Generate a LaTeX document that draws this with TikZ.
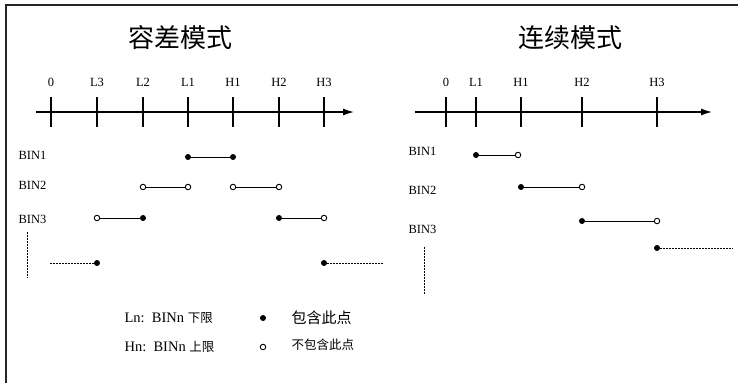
\documentclass[tikz,border=0pt]{standalone}
\usepackage{fontspec}
\setmainfont{Liberation Serif}
\newfontfamily\cjk{Noto Sans CJK SC}
\usetikzlibrary{arrows.meta}
\tikzset{
  incl/.style={circle,fill=black,inner sep=0pt,minimum size=6pt},
  excl/.style={circle,draw=black,fill=white,line width=0.9pt,inner sep=0pt,minimum size=5.5pt},
  ticklbl/.style={font=\fontsize{12.5}{14}\selectfont},
  binlbl/.style={font=\fontsize{12.5}{14}\selectfont,anchor=west},
  title/.style={font=\cjk\fontsize{26}{28}\selectfont},
  seg/.style={line width=1pt},
  dotline/.style={line width=1pt,dash pattern=on 1.5pt off 1.5pt},
  axis/.style={line width=1.4pt,-{Latex[length=11pt,width=7pt]}},
  tick/.style={line width=1.2pt}
}
\begin{document}
\begin{tikzpicture}[x=1pt,y=-1pt]
\useasboundingbox (0,0) rectangle (738,383);
\draw[line width=2pt,black!85] (6,383) -- (6,5) -- (738,5);
% tolerance mode
\node[title] (tA) at (180,38) {容差模式};
\draw[axis] (36,112) -- (354,112);
\foreach \x/\n/\t in {51/a0/0,97/aL3/L3,143/aL2/L2,188/aL1/L1,233/aH1/H1,279/aH2/H2,324/aH3/H3}{
  \draw[tick] (\x,97) -- (\x,127);
  \node[ticklbl] (\n) at (\x,82) {\t};
}
\node[binlbl] (bA1) at (15,155) {BIN1};
\node[binlbl] (bA2) at (15,185) {BIN2};
\node[binlbl] (bA3) at (15,219) {BIN3};
\node[incl] (p1) at (188,157) {};
\node[incl] (p2) at (233,157) {};
\draw[seg] (p1) -- (p2);
\node[excl] (p3) at (143,187) {};
\node[excl] (p4) at (188,187) {};
\draw[seg] (p3) -- (p4);
\node[excl] (p5) at (233,187) {};
\node[excl] (p6) at (279,187) {};
\draw[seg] (p5) -- (p6);
\node[excl] (p7) at (97,218) {};
\node[incl] (p8) at (143,218) {};
\draw[seg] (p7) -- (p8);
\node[incl] (p9) at (279,218) {};
\node[excl] (p10) at (324,218) {};
\draw[seg] (p9) -- (p10);
\coordinate (vA1) at (27,232);
\coordinate (vA2) at (27,278);
\draw[dotline] (vA1) -- (vA2);
\coordinate (dA1) at (50,263);
\node[incl] (p11) at (97,263) {};
\draw[dotline] (dA1) -- (p11);
\node[incl] (p12) at (324,263) {};
\coordinate (dA2) at (384,263);
\draw[dotline] (p12) -- (dA2);
% legend
\node[anchor=west,font=\fontsize{14.5}{16}\selectfont] (lgL) at (121,318) {Ln:\ \ BINn {\cjk\fontsize{12.5}{14}\selectfont 下限}};
\node[anchor=west,font=\fontsize{14.5}{16}\selectfont] (lgH) at (121,347) {Hn:\ \ BINn {\cjk\fontsize{12.5}{14}\selectfont 上限}};
\node[incl] (lgI) at (263,318) {};
\node[excl] (lgE) at (263,347) {};
\node[anchor=west,font=\cjk\fontsize{15}{16}\selectfont] (lgIt) at (288,318) {包含此点};
\node[anchor=west,font=\cjk\fontsize{12.5}{14}\selectfont] (lgEt) at (288,345) {不包含此点};
% continuous mode
\node[title] (tB) at (570,38) {连续模式};
\draw[axis] (415,112) -- (712,112);
\foreach \x/\n/\t in {446/b0/0,476/bL1/L1,521/bH1/H1,582/bH2/H2,657/bH3/H3}{
  \draw[tick] (\x,97) -- (\x,127);
  \node[ticklbl] (\n) at (\x,82) {\t};
}
\node[binlbl] (bB1) at (405,151) {BIN1};
\node[binlbl] (bB2) at (405,190) {BIN2};
\node[binlbl] (bB3) at (405,229) {BIN3};
\node[incl] (q1) at (476,155) {};
\node[excl] (q2) at (518,155) {};
\draw[seg] (q1) -- (q2);
\node[incl] (q3) at (521,187) {};
\node[excl] (q4) at (582,187) {};
\draw[seg] (q3) -- (q4);
\node[incl] (q5) at (582,221) {};
\node[excl] (q6) at (657,221) {};
\draw[seg] (q5) -- (q6);
\node[incl] (q7) at (657,248) {};
\coordinate (dB) at (733,248);
\draw[dotline] (q7) -- (dB);
\coordinate (vB1) at (424,247);
\coordinate (vB2) at (424,294);
\draw[dotline] (vB1) -- (vB2);
\end{tikzpicture}
\end{document}
